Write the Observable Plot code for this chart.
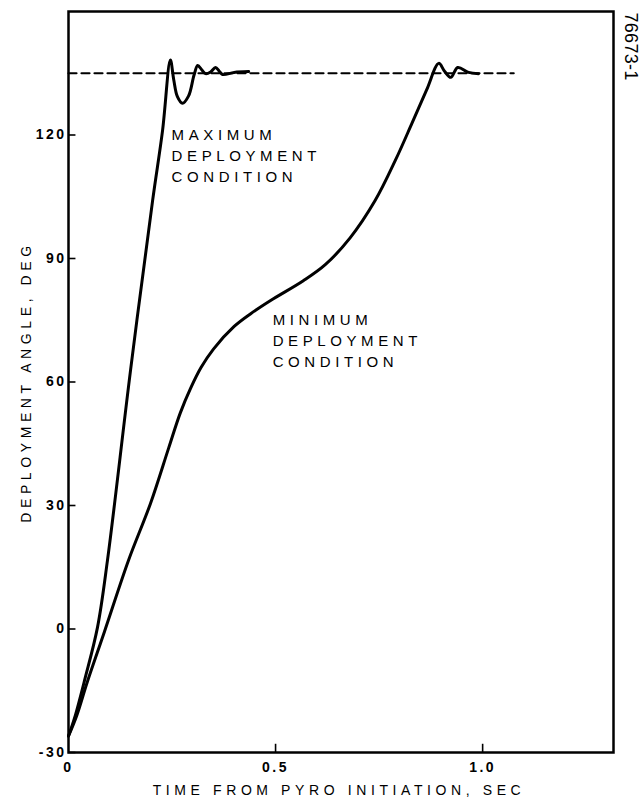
<!DOCTYPE html>
<html><head><meta charset="utf-8">
<script src="https://cdn.jsdelivr.net/npm/d3@7"></script>
<script src="https://cdn.jsdelivr.net/npm/@observablehq/plot@0.6"></script>
<style>body{margin:0;background:#fff}</style>
</head><body><div id="chart"></div>
<script>
// Maximum deployment condition
const timeMax  = [0, 0.015, 0.04, 0.070, 0.094, 0.15, 0.203, 0.227, 0.246, 0.254, 0.263, 0.275, 0.29, 0.303, 0.312, 0.322, 0.331, 0.343, 0.355, 0.364, 0.372, 0.40, 0.435];
const angleMax = [-26, -21.5, -12, 0.4, 16.6, 63, 104, 121, 138.2, 133.5, 129.3, 127.7, 129.5, 134.5, 136.9, 135.8, 134.9, 135.3, 136.4, 135.5, 134.7, 135.2, 135.4];
// Minimum deployment condition
const timeMin  = [0, 0.02, 0.045, 0.087, 0.145, 0.198, 0.242, 0.27, 0.295, 0.32, 0.35, 0.40, 0.44, 0.488, 0.567, 0.62, 0.68, 0.74, 0.79, 0.83, 0.865, 0.894, 0.908, 0.923, 0.94, 0.966, 0.99];
const angleMin = [-26, -21, -13, -0.6, 16.7, 30.5, 44, 52.5, 58.5, 63.5, 68, 73.5, 76.6, 79.8, 84.6, 88.5, 95, 104, 114, 123, 131, 137.4, 135.5, 134, 136.4, 135.2, 134.9];
// Reference (full deployment) line
const referenceAngle = 135;
const referenceTimes = [0, 1.075];

const xTicks = [0, 0.5, 1.0];
const xTickLabels = ["0", "0.5", "1.0"];
const yTicks = [-30, 0, 30, 60, 90, 120];
const yTickLabels = ["-30", "0", "30", "60", "90", "120"];
const xTitle = "TIME FROM PYRO INITIATION, SEC";
const yTitle = "DEPLOYMENT ANGLE, DEG";
const maxLabel = "MAXIMUM\nDEPLOYMENT\nCONDITION";
const minLabel = "MINIMUM\nDEPLOYMENT\nCONDITION";
const figureId = "76673-1";

const maxData = timeMax.map((t, i) => ({t, a: angleMax[i]}));
const minData = timeMin.map((t, i) => ({t, a: angleMin[i]}));
const refData = referenceTimes.map(t => ({t, a: referenceAngle}));

const font = "'Liberation Sans', Arial, Helvetica, sans-serif";

const chart = Plot.plot({
  width: 642, height: 807,
  marginLeft: 68, marginTop: 11, marginRight: 29, marginBottom: 55,
  x: {domain: [0, 1.316], label: null},
  y: {domain: [-30, 150], label: null},
  style: {fontFamily: font, background: "#fff", color: "#000"},
  marks: [
    Plot.line(refData, {x: "t", y: "a", stroke: "#000", strokeWidth: 2.2, strokeDasharray: "8,5"}),
    Plot.line(maxData, {x: "t", y: "a", curve: "catmull-rom", stroke: "#000", strokeWidth: 3}),
    Plot.line(minData, {x: "t", y: "a", curve: "catmull-rom", stroke: "#000", strokeWidth: 3}),
    Plot.ruleY(yTicks, {x1: 0, x2: 0.018, stroke: "#000", strokeWidth: 1.6}),
    Plot.ruleX(xTicks.slice(1), {y1: -30, y2: -28, stroke: "#000", strokeWidth: 1.6}),
    Plot.frame({stroke: "#000", strokeWidth: 2.5}),
    Plot.axisX(xTicks, {tickSize: 0, tickPadding: 10, fontSize: 14, fontWeight: "bold", label: null,
      tickFormat: d => xTickLabels[xTicks.indexOf(d)]}),
    Plot.axisY(yTicks, {tickSize: 0, tickPadding: 2, fontSize: 14, fontWeight: "bold", label: null,
      tickFormat: d => yTickLabels[yTicks.indexOf(d)]}),
    Plot.text([xTitle], {frameAnchor: "bottom", dy: 38, dx: -2, textAnchor: "middle", lineAnchor: "middle", fontSize: 14, fill: "#000"}),
    Plot.text([yTitle], {frameAnchor: "left", dx: -42, rotate: -90, textAnchor: "middle", lineAnchor: "middle", fontSize: 14, fill: "#000"}),
    Plot.text([figureId], {frameAnchor: "top-right", dx: 17, dy: 1, rotate: 90, textAnchor: "start", lineAnchor: "middle", fontSize: 18, fill: "#000"}),
    Plot.text([maxLabel], {x: 0.249, y: 122.3, textAnchor: "start", lineAnchor: "top", lineHeight: 1.4, fontSize: 15, fill: "#000"}),
    Plot.text([minLabel], {x: 0.493, y: 77.4, textAnchor: "start", lineAnchor: "top", lineHeight: 1.4, fontSize: 15, fill: "#000"})
  ]
});

const textGroups = chart.querySelectorAll('g[aria-label="text"]');
const spacings = ["4.6px", "4.6px", "0.3px", "4.6px", "4.6px"];
textGroups.forEach((g, i) => g.setAttribute("letter-spacing", spacings[i] || "0"));
chart.querySelectorAll('g[aria-label$="tick label"]').forEach(g => g.setAttribute("letter-spacing", "2.5px"));

document.getElementById("chart").appendChild(chart);
</script>
</body></html>
